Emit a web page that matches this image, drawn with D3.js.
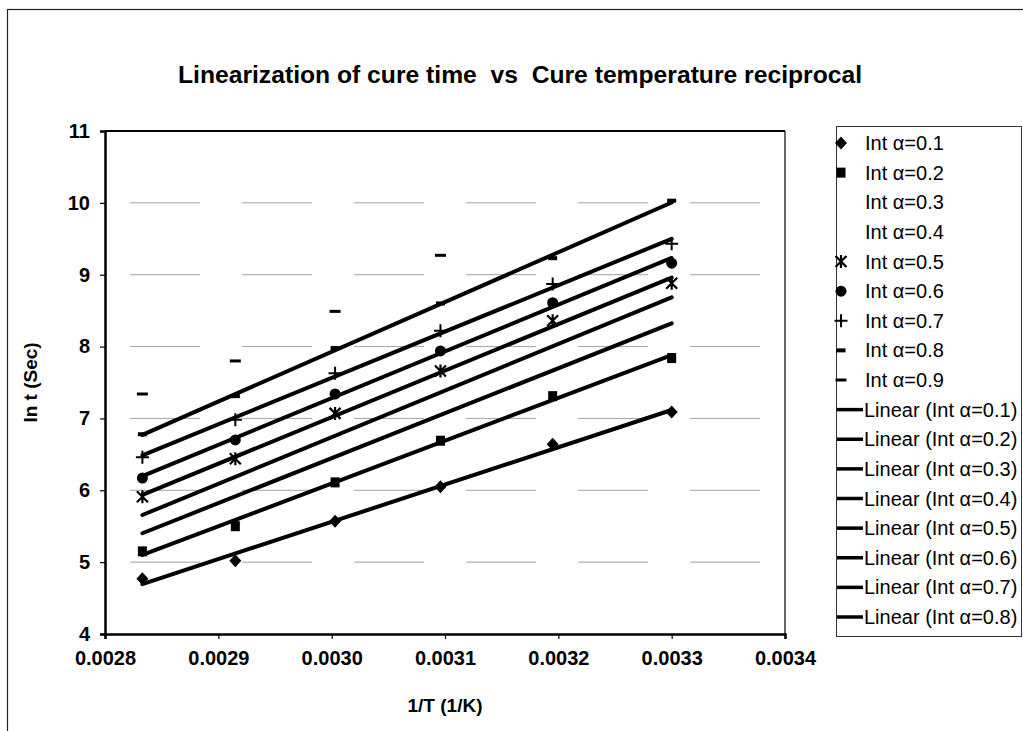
<!DOCTYPE html>
<html>
<head>
<meta charset="utf-8">
<script src="https://cdn.jsdelivr.net/npm/d3@7"></script>
<style>
  html, body { margin: 0; padding: 0; background: #fff; }
  svg { display: block; font-family: "Liberation Sans", Arial, sans-serif; }
</style>
</head>
<body>
<svg id="chart" width="1023" height="731"></svg>
<script>
// ---------- data ----------
const title = "Linearization of cure time  vs  Cure temperature reciprocal";
const xTitle = "1/T (1/K)";
const yTitle = "ln t (Sec)";
const xValues = [0.002833, 0.002915, 0.003003, 0.003096, 0.003195, 0.003300];
const seriesNames = ["Int α=0.1", "Int α=0.2", "Int α=0.3", "Int α=0.4", "Int α=0.5",
                     "Int α=0.6", "Int α=0.7", "Int α=0.8", "Int α=0.9"];
const a01 = [4.77, 5.02, 5.57, 6.05, 6.64, 7.09];
const a02 = [5.15, 5.50, 6.11, 6.69, 7.31, 7.84];
const a03 = [5.41, 5.90, 6.48, 7.03, 7.68, 8.32];
const a04 = [5.66, 6.18, 6.77, 7.34, 8.02, 8.68];
const a05 = [5.91, 6.44, 7.07, 7.66, 8.36, 8.88];
const a06 = [6.17, 6.70, 7.34, 7.94, 8.61, 9.16];
const a07 = [6.46, 6.98, 7.63, 8.22, 8.87, 9.43];
const a08 = [6.78, 7.31, 7.98, 8.60, 9.23, 10.03];
const a09 = [7.34, 7.80, 8.49, 9.27, null, null];
const markerTypes = ["diamond", "square", "none", "none", "star", "circle", "plus", "shortdash", "longdash"];
const trendSeries = [0, 1, 2, 3, 4, 5, 6, 7];   // indices with a linear trendline
const xTicks = [0.0028, 0.0029, 0.0030, 0.0031, 0.0032, 0.0033, 0.0034];
const yTicks = [4, 5, 6, 7, 8, 9, 10, 11];
const gridValues = [5, 6, 7, 8, 9, 10];

const seriesValues = [a01, a02, a03, a04, a05, a06, a07, a08, a09];

// ---------- layout ----------
const svg = d3.select("#chart");
const plot = { left: 105, right: 785, top: 131, bottom: 634 };
const x = d3.scaleLinear().domain([0.0028, 0.0034]).range([plot.left, plot.right]);
const y = d3.scaleLinear().domain([4, 11]).range([plot.bottom, plot.top]);

// outer chart frame
svg.append("rect").attr("x", 7.5).attr("y", 9.5).attr("width", 1030).attr("height", 740)
  .attr("fill", "none").attr("stroke", "#222").attr("stroke-width", 1.2);

// title
svg.append("text").attr("x", 520).attr("y", 83).attr("text-anchor", "middle")
  .attr("font-size", 23).attr("font-weight", "bold")
  .attr("textLength", 684).attr("lengthAdjust", "spacingAndGlyphs")
  .style("white-space", "pre").text(title);

// gridlines
svg.append("g").selectAll("line").data(gridValues).join("line")
  .attr("x1", plot.left).attr("x2", plot.right)
  .attr("y1", d => y(d)).attr("y2", d => y(d))
  .attr("stroke", "#9a9a9a").attr("stroke-width", 0.9)
  .attr("stroke-dasharray", "70,42").attr("stroke-dashoffset", -25);

// plot border (top/right)
svg.append("line").attr("x1", plot.left).attr("x2", plot.right).attr("y1", plot.top).attr("y2", plot.top)
  .attr("stroke", "#000").attr("stroke-width", 2);
svg.append("line").attr("x1", plot.right).attr("x2", plot.right).attr("y1", plot.top).attr("y2", plot.bottom)
  .attr("stroke", "#000").attr("stroke-width", 1.2);

// axes
const xAxis = d3.axisBottom(x).tickValues(xTicks).tickFormat(d3.format(".4f")).tickSize(5).tickPadding(12);
const yAxis = d3.axisLeft(y).tickValues(yTicks).tickFormat(d3.format("d")).tickSize(5).tickPadding(10);
const gx = svg.append("g").attr("transform", `translate(0,${plot.bottom})`).call(xAxis);
const gy = svg.append("g").attr("transform", `translate(${plot.left},0)`).call(yAxis);
[gx, gy].forEach(g => {
  g.select(".domain").attr("stroke", "#000").attr("stroke-width", 2.5);
  g.selectAll(".tick line").attr("stroke", "#000").attr("stroke-width", 1.2);
  g.selectAll(".tick text").attr("fill", "#000").attr("font-size", 20).attr("font-weight", "bold")
    .attr("font-family", "Liberation Sans, Arial, sans-serif");
});

// axis titles
svg.append("text").attr("x", 445).attr("y", 712).attr("text-anchor", "middle")
  .attr("font-size", 19).attr("font-weight", "bold").text(xTitle);
svg.append("text").attr("transform", `translate(37,${(plot.top + plot.bottom) / 2}) rotate(-90)`)
  .attr("text-anchor", "middle").attr("font-size", 19).attr("font-weight", "bold").text(yTitle);

// trendlines (least squares fit on each series)
function fit(vals) {
  const pts = xValues.map((xv, i) => [xv, vals[i]]).filter(p => p[1] != null);
  const mx = d3.mean(pts, p => p[0]), my = d3.mean(pts, p => p[1]);
  const sxy = d3.sum(pts, p => (p[0] - mx) * (p[1] - my));
  const sxx = d3.sum(pts, p => (p[0] - mx) ** 2);
  const b = sxy / sxx, a = my - b * mx;
  const x0 = d3.min(pts, p => p[0]), x1 = d3.max(pts, p => p[0]);
  return [[x0, a + b * x0], [x1, a + b * x1]];
}
const lineGen = d3.line().x(d => x(d[0])).y(d => y(d[1]));
svg.append("g").selectAll("path").data(trendSeries).join("path")
  .attr("d", i => lineGen(fit(seriesValues[i])))
  .attr("fill", "none").attr("stroke", "#000").attr("stroke-width", 4).attr("stroke-linecap", "round");

// markers
function drawMarker(g, type, cx, cy) {
  const k = "#000";
  switch (type) {
    case "diamond":
      g.append("path").attr("d", `M${cx},${cy - 6.5}L${cx + 6},${cy}L${cx},${cy + 6.5}L${cx - 6},${cy}Z`).attr("fill", k);
      break;
    case "square":
      g.append("rect").attr("x", cx - 4.5).attr("y", cy - 5).attr("width", 9).attr("height", 10).attr("fill", k);
      break;
    case "circle":
      g.append("circle").attr("cx", cx).attr("cy", cy).attr("r", 5.5).attr("fill", k);
      break;
    case "plus":
      g.append("path").attr("d", `M${cx - 6.5},${cy}H${cx + 6.5}M${cx},${cy - 6.5}V${cy + 6.5}`)
        .attr("stroke", k).attr("stroke-width", 2);
      break;
    case "star":
      g.append("path").attr("d", `M${cx - 5.5},${cy - 5.5}L${cx + 5.5},${cy + 5.5}M${cx + 5.5},${cy - 5.5}L${cx - 5.5},${cy + 5.5}M${cx},${cy - 6.5}V${cy + 6.5}`)
        .attr("stroke", k).attr("stroke-width", 2.2);
      break;
    case "shortdash":
      g.append("rect").attr("x", cx - 4.5).attr("y", cy - 2).attr("width", 9).attr("height", 4).attr("fill", k);
      break;
    case "longdash":
      g.append("rect").attr("x", cx - 5.5).attr("y", cy - 1.5).attr("width", 11).attr("height", 3).attr("fill", k);
      break;
    default: break;
  }
}
const mg = svg.append("g");
seriesValues.forEach((vals, si) => {
  vals.forEach((v, i) => {
    if (v == null) return;
    drawMarker(mg, markerTypes[si], x(xValues[i]), y(v));
  });
});

// legend
const leg = svg.append("g");
const legBox = { x: 836, y: 126, w: 185, h: 510 };
leg.append("rect").attr("x", legBox.x + 0.5).attr("y", legBox.y + 0.5).attr("width", legBox.w).attr("height", legBox.h)
  .attr("fill", "#fff").attr("stroke", "#333").attr("stroke-width", 1);
const legendItems = seriesNames.map((n, i) => ({ label: n, type: "marker", idx: i }))
  .concat(trendSeries.map(i => ({ label: `Linear (${seriesNames[i]})`, type: "line", idx: i })));
const rowY = d3.scaleLinear().domain([0, legendItems.length - 1]).range([143, 617]);
legendItems.forEach((it, r) => {
  const cy = rowY(r);
  if (it.type === "marker") {
    drawMarker(leg, markerTypes[it.idx], 841, cy);
    leg.append("text").attr("x", 865).attr("y", cy).attr("dy", "0.35em")
      .attr("font-size", 20).text(it.label);
  } else {
    leg.append("line").attr("x1", 837).attr("x2", 863).attr("y1", cy).attr("y2", cy)
      .attr("stroke", "#000").attr("stroke-width", 3.5);
    leg.append("text").attr("x", 864).attr("y", cy).attr("dy", "0.35em")
      .attr("font-size", 20).text(it.label);
  }
});
</script>
</body>
</html>
